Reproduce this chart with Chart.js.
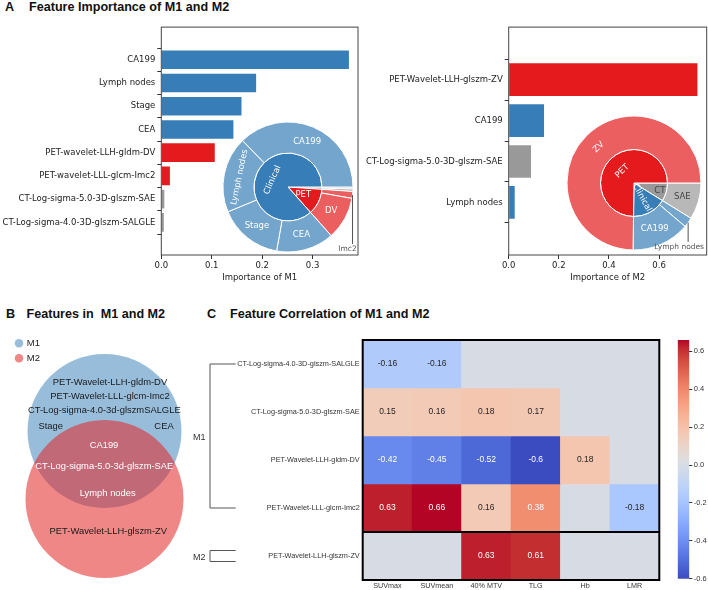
<!DOCTYPE html>
<html>
<head>
<meta charset="utf-8">
<script src="https://cdn.jsdelivr.net/npm/chart.js@4.4.1/dist/chart.umd.min.js"></script>
<style>
  html, body { margin: 0; padding: 0; background: #fff; }
  #page { position: relative; width: 708px; height: 590px; overflow: hidden; }
  #page canvas { position: absolute; }
  .ttl { position: absolute; font: bold 12.6px 'Liberation Sans', Arial, sans-serif; line-height: 12.6px; color: #111; white-space: pre; }
</style>
</head>
<body>
<div id="page">
  <div class="ttl" style="left:5px;top:1px">A</div>
  <div class="ttl" style="left:29px;top:1px">Feature Importance of M1 and M2</div>
  <div class="ttl" style="left:6px;top:308px">B</div>
  <div class="ttl" style="left:26.5px;top:308px">Features in  M1 and M2</div>
  <div class="ttl" style="left:207px;top:308px">C</div>
  <div class="ttl" style="left:230px;top:308px">Feature Correlation of M1 and M2</div>
  <canvas id="barM1" width="362" height="263" style="left:0;top:20px"></canvas>
  <canvas id="barM2" width="346" height="263" style="left:362px;top:20px"></canvas>
  <canvas id="pieM1" width="148" height="148" style="left:214px;top:113px"></canvas>
  <canvas id="pieM2" width="148" height="148" style="left:560px;top:109px"></canvas>
  <canvas id="venn" width="200" height="257" style="left:0;top:333px"></canvas>
  <canvas id="heat" width="475" height="265" style="left:190px;top:325px"></canvas>
  <canvas id="cbar" width="43" height="260" style="left:665px;top:330px"></canvas>
</div>
<script>
// ---------- dados ----------
// M1 (importância)
const m1Features = ['CA199', 'Lymph nodes', 'Stage', 'CEA', 'PET-wavelet-LLH-gldm-DV',
    'PET-wavelet-LLL-glcm-Imc2', 'CT-Log-sigma-5.0-3D-glszm-SAE', 'CT-Log-sigma-4.0-3D-glszm-SALGLE'];
const m1Short = ['CA199', 'Lymph nodes', 'Stage', 'CEA', 'DV', 'Imc2', 'SAE', 'SALGLE'];
const m1Importance = [0.372, 0.188, 0.159, 0.143, 0.106, 0.017, 0.006, 0.005];
const m1Group = ['Clinical', 'Clinical', 'Clinical', 'Clinical', 'PET', 'PET', 'CT', 'CT'];
const m1Ticks = [0, 0.1, 0.2, 0.3];

// M2 (importância)
const m2Features = ['PET-Wavelet-LLH-glszm-ZV', 'CA199', 'CT-Log-sigma-5.0-3D-glszm-SAE', 'Lymph nodes'];
const m2Short = ['ZV', 'CA199', 'SAE', 'Lymph nodes'];
const m2Importance = [0.753, 0.141, 0.089, 0.024];
const m2Group = ['PET', 'Clinical', 'CT', 'Clinical'];
const m2Ticks = [0, 0.2, 0.4, 0.6];

// Venn
const vennSets = ['M1', 'M2'];
const vennOnlyM1 = ['PET-Wavelet-LLH-gldm-DV', 'PET-Wavelet-LLL-glcm-Imc2', 'CT-Log-sigma-4.0-3d-glszmSALGLE', 'Stage', 'CEA'];
const vennBoth = ['CA199', 'CT-Log-sigma-5.0-3d-glszm-SAE', 'Lymph nodes'];
const vennOnlyM2 = ['PET-Wavelet-LLH-glszm-ZV'];

// correlação
const corrCols = ['SUVmax', 'SUVmean', '40% MTV', 'TLG', 'Hb', 'LMR'];
const corrRows = ['CT-Log-sigma-4.0-3D-glszm-SALGLE', 'CT-Log-sigma-5.0-3D-glszm-SAE',
    'PET-Wavelet-LLH-gldm-DV', 'PET-Wavelet-LLL-glcm-Imc2', 'PET-Wavelet-LLH-glszm-ZV'];
const corrRowModel = ['M1', 'M1', 'M1', 'M1', 'M2'];
const corrSALGLE = [-0.16, -0.16, 0, 0, 0, 0];
const corrSAE = [0.15, 0.16, 0.18, 0.17, 0, 0];
const corrDV = [-0.42, -0.45, -0.52, -0.6, 0.18, 0];
const corrImc2 = [0.63, 0.66, 0.16, 0.38, 0, -0.18];
const corrZV = [0, 0, 0.63, 0.61, 0, 0];
const corrRange = [-0.6, 0.66];
const cbTicks = [-0.6, -0.4, -0.2, 0, 0.2, 0.4, 0.6];

// ---------- estilos ----------
Chart.defaults.animation = false;
Chart.defaults.responsive = false;
Chart.defaults.plugins.legend.display = false;
Chart.defaults.plugins.tooltip.enabled = false;
Chart.defaults.font.family = 'DejaVu Sans';

const groupColors = {Clinical: '#377eb8', PET: '#e41a1c', CT: '#999999'};
const groupLight = {Clinical: '#73a5cd', PET: '#ec5f60', CT: '#b8b8b8'};
const mplFont = {family: 'DejaVu Sans', size: 8.5};
const arialFont = 'Liberation Sans';

// coolwarm (matplotlib)
const coolwarmTable = [[59,76,192],[68,90,204],[77,104,215],[87,117,225],[98,130,234],[108,142,241],
    [119,154,247],[130,165,251],[141,176,254],[152,185,255],[163,194,255],[174,201,253],[184,208,249],
    [194,213,244],[204,217,238],[213,219,230],[221,221,221],[229,216,209],[236,211,197],[241,204,185],
    [245,196,173],[247,187,160],[247,177,148],[247,166,135],[244,154,123],[241,141,111],[236,127,99],
    [229,112,88],[222,96,77],[213,80,66],[203,62,56],[192,40,47],[180,4,38]];
function coolwarm(v) {
    let t = (v - corrRange[0]) / (corrRange[1] - corrRange[0]);
    t = Math.min(1, Math.max(0, t));
    const p = t * (coolwarmTable.length - 1);
    const i = Math.min(Math.floor(p), coolwarmTable.length - 2);
    const f = p - i;
    return coolwarmTable[i].map((c, k) => Math.round(c + (coolwarmTable[i + 1][k] - c) * f));
}
const rgb = c => `rgb(${c[0]},${c[1]},${c[2]})`;
function textOn(c) {
    const lin = c.map(v => { v /= 255; return v <= 0.03928 ? v / 12.92 : Math.pow((v + 0.055) / 1.055, 2.4); });
    const lum = 0.2126 * lin[0] + 0.7152 * lin[1] + 0.0722 * lin[2];
    return lum > 0.408 ? '#262626' : '#ffffff';
}

// moldura estilo matplotlib
const framePlugin = {
    id: 'frame',
    afterDraw(chart, args, opts) {
        const {ctx, chartArea: a} = chart;
        ctx.save();
        ctx.strokeStyle = opts.color || '#444';
        ctx.lineWidth = opts.width || 1;
        ctx.strokeRect(a.left, a.top, a.right - a.left, a.bottom - a.top);
        ctx.restore();
    }
};

// ---------- gráficos de barras (A) ----------
function barChart(id, features, values, groups, ticks, xMax, title, yWidth, padRight) {
    const n = features.length;
    const margin = (n - 0.2) * 0.05; // margens do matplotlib
    new Chart(document.getElementById(id), {
        type: 'bar',
        data: {
            datasets: [{
                data: values.map((v, i) => ({x: v, y: i})),
                backgroundColor: groups.map(g => groupColors[g]),
                borderWidth: 0,
                barPercentage: 0.8,
                categoryPercentage: 1
            }]
        },
        options: {
            indexAxis: 'y',
            layout: {padding: {top: 6, right: padRight, left: 0, bottom: 0}},
            plugins: {frame: {color: '#444', width: 1}},
            scales: {
                x: {
                    type: 'linear', min: 0, max: xMax,
                    afterBuildTicks: ax => { ax.ticks = ticks.map(v => ({value: v})); },
                    ticks: {callback: v => v.toFixed(1), font: mplFont, color: '#222', padding: 2, maxRotation: 0},
                    grid: {drawOnChartArea: false, tickLength: 4, color: '#333'},
                    border: {display: false},
                    title: {display: true, text: title, font: mplFont, color: '#222', padding: {top: 0, bottom: 0}},
                    afterFit: s => { s.height = 28; }
                },
                y: {
                    type: 'linear', min: -0.4 - margin, max: n - 0.6 + margin, reverse: true,
                    afterBuildTicks: ax => { ax.ticks = features.map((_, i) => ({value: i})); },
                    ticks: {callback: v => features[v], font: mplFont, color: '#222', padding: 2, autoSkip: false},
                    grid: {drawOnChartArea: false, tickLength: 4, color: '#333'},
                    border: {display: false},
                    afterFit: s => { s.width = yWidth; }
                }
            }
        },
        plugins: [framePlugin]
    });
}
barChart('barM1', m1Features, m1Importance, m1Group, m1Ticks, 0.39, 'Importance of M1', 161.3, 4);
barChart('barM2', m2Features, m2Importance, m2Group, m2Ticks, 0.79, 'Importance of M2', 146.7, 1.3);

// ---------- rosquinhas (A) ----------
const donutLabels = {
    id: 'donutLabels',
    afterDatasetsDraw(chart, args, opts) {
        const {ctx} = chart;
        chart.data.datasets.forEach((ds, di) => {
            chart.getDatasetMeta(di).data.forEach((arc, k) => {
                const name = ds.names[k];
                const st = opts.labels[name];
                if (!st) return;
                const p = arc.getProps(['x', 'y', 'startAngle', 'endAngle', 'innerRadius', 'outerRadius'], true);
                const a = (p.startAngle + p.endAngle) / 2;
                ctx.save();
                ctx.font = `${st.size || 8.5}px 'DejaVu Sans'`;
                ctx.fillStyle = st.color || '#fff';
                ctx.textAlign = 'center';
                ctx.textBaseline = 'middle';
                if (st.outside) {
                    const ex = p.x + p.outerRadius * Math.cos(a);
                    const ey = p.y + p.outerRadius * Math.sin(a);
                    ctx.strokeStyle = '#555';
                    ctx.lineWidth = 1;
                    ctx.beginPath();
                    ctx.moveTo(ex, ey);
                    ctx.lineTo(ex, ey + st.drop);
                    ctx.stroke();
                    ctx.fillText(name, ex + st.dx, ey + st.drop + 5);
                } else {
                    const r = p.innerRadius + (p.outerRadius - p.innerRadius) * (st.rf || 0.5);
                    ctx.translate(p.x + r * Math.cos(a), p.y + r * Math.sin(a));
                    let rot = 0;
                    if (st.rotate === 'tangent') rot = a + Math.PI / 2;
                    if (st.rotate === 'radial') rot = a;
                    ctx.rotate(Math.atan(Math.tan(rot)));
                    ctx.fillText(name, 0, 0);
                }
                ctx.restore();
            });
        });
    }
};

function donutChart(id, short, values, groups, radius, weights, labels) {
    const totals = {};
    groups.forEach((g, i) => { totals[g] = (totals[g] || 0) + values[i]; });
    const groupOrder = Object.keys(totals).sort((a, b) => totals[b] - totals[a]);
    const items = [];
    groupOrder.forEach(g => values.forEach((v, i) => { if (groups[i] === g) items.push(i); }));
    // Chart.js gira no sentido horário: inverte para imitar o matplotlib
    const outer = items.slice().reverse();
    const inner = groupOrder.slice().reverse();
    new Chart(document.getElementById(id), {
        type: 'doughnut',
        data: {
            datasets: [{
                names: outer.map(i => short[i]),
                data: outer.map(i => values[i]),
                backgroundColor: outer.map(i => groupLight[groups[i]]),
                borderColor: '#fff', borderWidth: 1, weight: weights[0]
            }, {
                names: inner,
                data: inner.map(g => totals[g]),
                backgroundColor: inner.map(g => groupColors[g]),
                borderColor: '#fff', borderWidth: 1, weight: weights[1]
            }]
        },
        options: {
            rotation: 90,
            cutout: 0,
            radius: radius,
            plugins: {donutLabels: {labels: labels}}
        },
        plugins: [donutLabels]
    });
}

donutChart('pieM1', m1Short, m1Importance, m1Group, 65, [31, 34], {
    'CA199': {}, 'Lymph nodes': {rotate: 'tangent'}, 'Stage': {}, 'CEA': {}, 'DV': {},
    'Imc2': {outside: true, drop: 49, dx: -5, color: '#555', size: 7.5},
    'Clinical': {rotate: 'tangent'}, 'PET': {}
});
donutChart('pieM2', m2Short, m2Importance, m2Group, 67, [33.5, 33.5], {
    'ZV': {rotate: 'tangent'}, 'CA199': {}, 'SAE': {color: '#444'},
    'Lymph nodes': {outside: true, drop: 19.5, dx: -9, color: '#555', size: 7.5},
    'PET': {rotate: 'tangent'}, 'Clinical': {rotate: 'radial'}, 'CT': {color: '#444', rf: 0.8}
});

// ---------- Venn (B) ----------
const vennTexts = {
    id: 'vennTexts',
    afterDatasetsDraw(chart, args, opts) {
        const {ctx, scales: {x, y}} = chart;
        ctx.save();
        ctx.font = `9.4px '${arialFont}'`;
        ctx.textAlign = 'center';
        ctx.textBaseline = 'middle';
        opts.groups.forEach(g => {
            ctx.fillStyle = g.color;
            g.texts.forEach((t, i) => {
                ctx.fillText(t, x.getPixelForValue(g.pos[i][0]), y.getPixelForValue(g.pos[i][1]));
            });
        });
        ctx.restore();
    }
};
const vennCircles = {M1: {x: 104.5, y: 431, r: 77}, M2: {x: 104.5, y: 499, r: 79}};
new Chart(document.getElementById('venn'), {
    type: 'bubble',
    data: {
        datasets: [{
            label: vennSets[0], data: [vennCircles.M1], backgroundColor: '#98bddb', borderWidth: 0, order: 1, clip: false
        }, {
            label: vennSets[1], data: [vennCircles.M2], backgroundColor: 'rgba(228,37,37,0.55)', borderWidth: 0, order: 0, clip: false
        }]
    },
    options: {
        layout: {autoPadding: false, padding: {left: 10.5, top: 0, right: 0, bottom: 0}},
        scales: {
            x: {display: false, min: 10.5, max: 200},
            y: {display: false, min: 333, max: 590, reverse: true}
        },
        plugins: {
            legend: {
                display: true, position: 'chartArea', align: 'start',
                labels: {
                    usePointStyle: true, pointStyle: 'circle', boxWidth: 6, boxHeight: 6, padding: 5.5,
                    color: '#222', font: {family: arialFont, size: 9.5},
                    sort: (a, b) => a.datasetIndex - b.datasetIndex
                }
            },
            vennTexts: {
                groups: [
                    {texts: vennOnlyM1, color: '#1a1a1a', pos: [[110, 382.3], [110, 396.7], [104.3, 410.7], [50.7, 426], [164, 426]]},
                    {texts: vennBoth, color: '#ffffff', pos: [[104, 445], [104.3, 466.7], [107.7, 493.3]]},
                    {texts: vennOnlyM2, color: '#1a1a1a', pos: [[108.3, 531.7]]}
                ]
            }
        }
    },
    plugins: [vennTexts]
});

// ---------- mapa de calor (C) ----------
const corrValues = [corrSALGLE, corrSAE, corrDV, corrImc2, corrZV];
const heatDecor = {
    id: 'heatDecor',
    afterDatasetsDraw(chart) {
        const {ctx} = chart;
        ctx.save();
        ctx.font = `8.5px '${arialFont}'`;
        ctx.textAlign = 'center';
        ctx.textBaseline = 'middle';
        chart.data.datasets.forEach((ds, di) => {
            chart.getDatasetMeta(di).data.forEach((bar, k) => {
                const v = ds.values[k];
                if (v === 0) return;
                const p = bar.getProps(['x', 'y', 'base'], true);
                ctx.fillStyle = textOn(coolwarm(v));
                ctx.fillText(String(v), p.x, (p.y + p.base) / 2);
            });
        });
        ctx.restore();
    },
    afterDraw(chart) {
        const {ctx, chartArea: a, scales: {y}} = chart;
        ctx.save();
        ctx.strokeStyle = '#000';
        ctx.lineWidth = 2;
        ctx.strokeRect(a.left, a.top, a.right - a.left, a.bottom - a.top);
        // separação M1 / M2
        const models = [...new Set(corrRowModel)];
        let count = 0;
        models.forEach((m, mi) => {
            count += corrRowModel.filter(r => r === m).length;
            if (mi < models.length - 1) {
                const yy = y.getPixelForValue(count);
                ctx.beginPath();
                ctx.moveTo(a.left, yy);
                ctx.lineTo(a.right, yy);
                ctx.stroke();
            }
        });
        // colchetes dos modelos
        ctx.strokeStyle = '#555';
        ctx.lineWidth = 1;
        ctx.fillStyle = '#333';
        ctx.font = `9px '${arialFont}'`;
        ctx.textAlign = 'center';
        ctx.textBaseline = 'middle';
        models.forEach(m => {
            const idx = corrRowModel.map((r, i) => r === m ? i : -1).filter(i => i >= 0);
            let y0 = y.getPixelForValue(idx[0] + 0.5);
            let y1 = y.getPixelForValue(idx[idx.length - 1] + 0.5);
            if (idx.length === 1) { y0 -= 5.5; y1 += 5.5; }
            ctx.beginPath();
            ctx.moveTo(45.7, y0);
            ctx.lineTo(20, y0);
            ctx.lineTo(20, y1);
            ctx.lineTo(45.7, y1);
            ctx.stroke();
            ctx.fillText(m, 9.3, (y0 + y1) / 2 + 2);
        });
        ctx.restore();
    }
};
new Chart(document.getElementById('heat'), {
    type: 'bar',
    data: {
        labels: corrCols,
        datasets: corrRows.map((name, i) => ({
            label: name,
            values: corrValues[i],
            data: corrCols.map(() => [i, i + 1]),
            backgroundColor: corrValues[i].map(v => rgb(coolwarm(v))),
            borderWidth: 0,
            grouped: false,
            categoryPercentage: 1,
            barPercentage: 1
        }))
    },
    options: {
        layout: {padding: {top: 15, right: 5.7, left: 0, bottom: 0}},
        scales: {
            x: {
                grid: {display: false, drawTicks: false}, border: {display: false},
                ticks: {font: {family: arialFont, size: 7.2}, color: '#333', padding: 2, maxRotation: 0, autoSkip: false},
                afterFit: s => { s.height = 10; }
            },
            y: {
                type: 'linear', min: 0, max: corrRows.length, reverse: true,
                afterBuildTicks: ax => { ax.ticks = corrRows.map((_, i) => ({value: i + 0.5})); },
                ticks: {callback: v => corrRows[Math.floor(v)], font: {family: arialFont, size: 7.3}, color: '#333', padding: 3, autoSkip: false},
                grid: {display: false, drawTicks: false}, border: {display: false},
                afterFit: s => { s.width = 172.7; }
            }
        }
    },
    plugins: [heatDecor]
});

// barra de cores
new Chart(document.getElementById('cbar'), {
    type: 'bar',
    data: {
        labels: ['r'],
        datasets: [{
            data: [corrRange],
            backgroundColor: c => {
                const a = c.chart.chartArea;
                if (!a) return '#ddd';
                const g = c.chart.ctx.createLinearGradient(0, a.bottom, 0, a.top);
                coolwarmTable.forEach((col, k) => g.addColorStop(k / (coolwarmTable.length - 1), rgb(col)));
                return g;
            },
            borderWidth: 0, categoryPercentage: 1, barPercentage: 1
        }]
    },
    options: {
        layout: {padding: {left: 12.7, top: 10, bottom: 11.3, right: 0}},
        scales: {
            x: {display: false},
            y: {
                position: 'right', min: corrRange[0], max: corrRange[1],
                afterBuildTicks: ax => { ax.ticks = cbTicks.map(v => ({value: v})); },
                ticks: {callback: v => (Math.abs(v) < 1e-9 ? 0 : v).toFixed(1), font: {family: arialFont, size: 7.5}, color: '#333', padding: 1.5},
                grid: {drawOnChartArea: false, tickLength: 3, color: '#333'},
                border: {display: false},
                afterFit: s => { s.width = 18.7; }
            }
        }
    }
});
</script>
</body>
</html>
